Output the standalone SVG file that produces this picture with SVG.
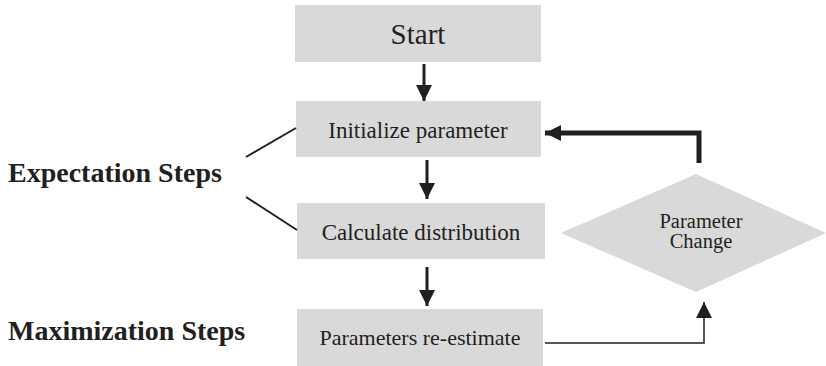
<svg xmlns="http://www.w3.org/2000/svg" width="826" height="366" viewBox="0 0 826 366">
<style>
.box{fill:#d9d9d9}
.t{font-family:"Liberation Serif","Times New Roman",serif;fill:#231f20;text-anchor:middle}
.lbl{font-family:"Liberation Serif","Times New Roman",serif;font-weight:bold;fill:#231f20;font-size:28px}
.ln{stroke:#231f20;fill:none}
</style>
<defs>
<marker id="ah2" viewBox="0 0 10 10" refX="10" refY="5" markerWidth="16" markerHeight="16" markerUnits="userSpaceOnUse" orient="auto" preserveAspectRatio="none">
<path d="M0,0 L10,5 L0,10 Z" fill="#231f20"/>
</marker>
</defs>
<g id="start"><rect class="box" x="295" y="5" width="246" height="57"/><text class="t" x="418" y="44" font-size="29">Start</text></g>
<g id="init"><rect class="box" x="296" y="101" width="245" height="56"/><text class="t" x="418" y="138" font-size="23">Initialize parameter</text></g>
<g id="calc"><rect class="box" x="297" y="203" width="248" height="56"/><text class="t" x="421" y="240" font-size="23">Calculate distribution</text></g>
<g id="reest"><rect class="box" x="297" y="309" width="246" height="57"/><text class="t" x="420" y="345" font-size="22">Parameters re-estimate</text></g>
<g id="change"><polygon class="box" points="561,233 696,174 826,233 696,292"/><text class="t" x="701" y="228" font-size="20.5">Parameter</text><text class="t" x="701" y="248" font-size="20.5">Change</text></g>
<g id="expect"><text class="lbl" x="8" y="182">Expectation Steps</text></g>
<g id="maxim"><text class="lbl" x="8" y="340">Maximization Steps</text></g>
<g id="connectors">
<line class="ln" x1="424" y1="64" x2="424" y2="101" stroke-width="3" marker-end="url(#ah2)"/>
<line class="ln" x1="427" y1="160" x2="427" y2="199" stroke-width="3" marker-end="url(#ah2)"/>
<line class="ln" x1="427" y1="267" x2="427" y2="306" stroke-width="3" marker-end="url(#ah2)"/>
<polyline class="ln" points="699,163 699,133 545,133" stroke-width="5" marker-end="url(#ah2)"/>
<polyline class="ln" points="545,343 704,343 704,302" stroke-width="1.5" marker-end="url(#ah2)"/>
<line class="ln" x1="246" y1="157" x2="296" y2="128" stroke-width="2"/>
<line class="ln" x1="246" y1="197" x2="297" y2="230" stroke-width="2"/>
</g>
</svg>
